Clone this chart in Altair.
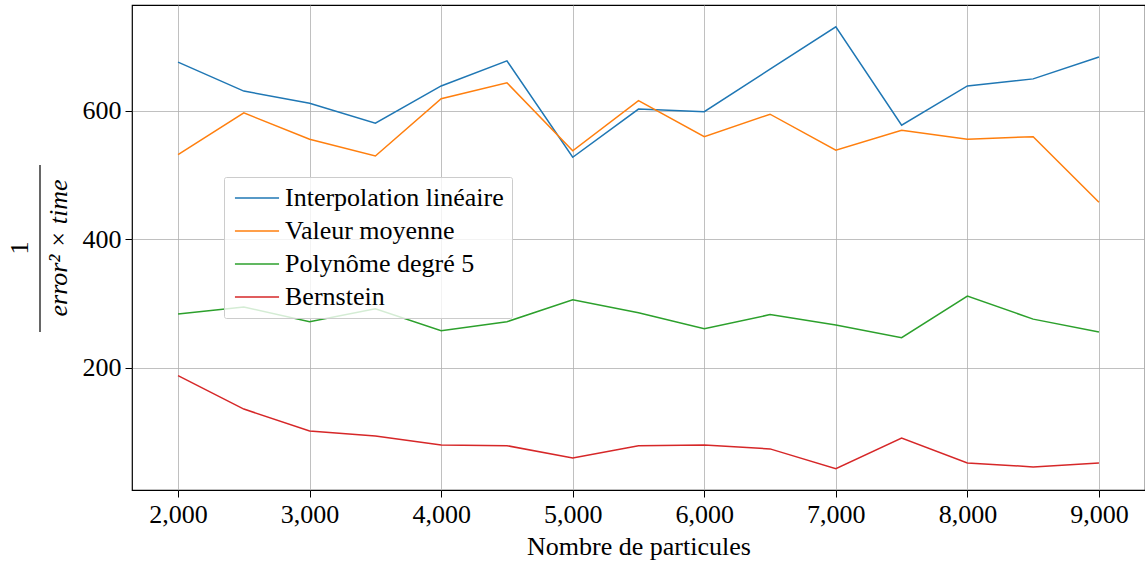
import altair as alt
import pandas as pd

particles = [2000, 2500, 3000, 3500, 4000, 4500, 5000, 5500, 6000, 6500, 7000, 7500, 8000, 8500, 9000]
interp = [676, 631, 612, 581, 639, 678, 528, 603, 599, 665, 731, 578, 639, 650, 684]
moyenne = [532, 597, 556, 530, 619, 644, 538, 616, 560, 595, 539, 570, 556, 560, 458]
poly5 = [284, 295, 272, 292, 258, 272, 306, 286, 261, 283, 267, 247, 312, 276, 256]
bernstein = [188, 136, 102, 94, 80, 79, 60, 79, 80, 74, 43, 91, 52, 46, 52]

series_names = ["Interpolation linéaire", "Valeur moyenne", "Polynôme degré 5", "Bernstein"]
series_colors = ["#1f77b4", "#ff7f0e", "#2ca02c", "#d62728"]
x_ticks = [2000, 3000, 4000, 5000, 6000, 7000, 8000, 9000]
y_ticks = [200, 400, 600]

rows = []
for name, vals in zip(series_names, [interp, moyenne, poly5, bernstein]):
    for p, v in zip(particles, vals):
        rows.append({"particules": p, "valeur": v, "serie": name})
df = pd.DataFrame(rows)

FONT = "Liberation Serif"

lines = alt.Chart(df).mark_line(strokeWidth=1.5).encode(
    x=alt.X("particules:Q", scale=alt.Scale(domain=[1650, 9350], nice=False, zero=False),
            axis=alt.Axis(values=x_ticks, format=",d", title="Nombre de particules",
                          titlePadding=6)),
    y=alt.Y("valeur:Q", scale=alt.Scale(domain=[10, 765], nice=False, zero=False),
            axis=alt.Axis(values=y_ticks, format="d", title=None)),
    color=alt.Color("serie:N", scale=alt.Scale(domain=series_names, range=series_colors),
                    sort=series_names,
                    legend=alt.Legend(title=None, orient="none", legendX=92, legendY=172,
                                      symbolType="M-2.45,0H2.45", symbolSize=324,
                                      symbolStrokeWidth=1.5, symbolOffset=12,
                                      labelFontSize=26, labelFont=FONT, labelColor="black",
                                      labelOffset=15, rowPadding=7, labelLimit=0,
                                      fillColor="rgba(255,255,255,0.8)", strokeColor="#cccccc",
                                      padding=8, cornerRadius=2)),
)

one = alt.Chart(pd.DataFrame({"t": ["1"]})).mark_text(
    font=FONT, fontSize=26, angle=270, color="black", align="center", baseline="middle"
).encode(x=alt.value(-112), y=alt.value(243), text="t:N")

frac_line = alt.Chart(pd.DataFrame({"a": [0]})).mark_rule(color="black", strokeWidth=1.2).encode(
    x=alt.value(-92), y=alt.value(160), y2=alt.value(327))

denom = alt.Chart(pd.DataFrame({"t": ["error² × time"]})).mark_text(
    font=FONT, fontSize=26, fontStyle="italic", angle=270, color="black",
    align="center", baseline="middle"
).encode(x=alt.value(-73), y=alt.value(243), text="t:N")

chart = alt.layer(lines, one, frac_line, denom).properties(
    width=1013, height=485,
    autosize=alt.AutoSizeParams(type="none"),
    padding={"left": 132, "top": 5, "right": 0, "bottom": 77},
).configure_view(stroke="black", strokeWidth=1.2).configure_axis(
    grid=True, gridColor="#b0b0b0", gridWidth=0.8, domain=False,
    tickColor="black", tickSize=7, tickWidth=1,
    labelFont=FONT, labelFontSize=26, labelColor="black", labelPadding=4,
    titleFont=FONT, titleFontSize=26, titleColor="black", titleFontWeight="normal",
)

chart.save("out.html", embed_options={"renderer": "svg", "actions": False})
